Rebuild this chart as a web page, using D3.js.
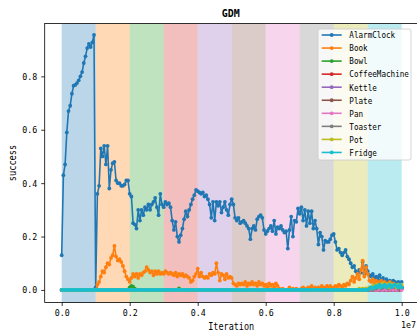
<!DOCTYPE html>
<html>
<head>
<meta charset="utf-8">
<script src="https://cdn.jsdelivr.net/npm/d3@7"></script>
<style>
  body { margin: 0; background: #fff; }
  svg text { font-family: "DejaVu Sans Mono", monospace; fill: #000; }
</style>
</head>
<body>
<figure id="gdm" style="margin:0"></figure>
<script>
// objects trained one after another, one stage of 1e6 iterations each
const objects = ['AlarmClock', 'Book', 'Bowl', 'CoffeeMachine', 'Kettle', 'Plate', 'Pan', 'Toaster', 'Pot', 'Fridge'];
const colors = ['#1f77b4', '#ff7f0e', '#2ca02c', '#d62728', '#9467bd', '#8c564b', '#e377c2', '#7f7f7f', '#bcbd22', '#17becf'];
const stageLength = 1e6;
const step = 50000;

const xTicks = [0, 2e6, 4e6, 6e6, 8e6, 1e7];
const xTickLabels = ['0.0', '0.2', '0.4', '0.6', '0.8', '1.0'];
const yTicks = [0, 0.2, 0.4, 0.6, 0.8];
const yTickLabels = ['0.0', '0.2', '0.4', '0.6', '0.8'];

const alarmClock = [
  0.13, 0.43, 0.47, 0.59, 0.67, 0.69, 0.735, 0.765, 0.768, 0.775, 0.785, 0.80, 0.816, 0.85, 0.875, 0.906, 0.922, 0.91, 0.927, 0.955,
  0.01, 0.36, 0.39, 0.53, 0.50, 0.54, 0.47, 0.54, 0.38, 0.45, 0.475, 0.48, 0.41, 0.40, 0.40, 0.39, 0.39, 0.395, 0.41, 0.41,
  0.36, 0.35, 0.25, 0.245, 0.23, 0.30, 0.26, 0.30, 0.28, 0.31, 0.30, 0.32, 0.30, 0.32, 0.33, 0.345, 0.31, 0.28, 0.36, 0.32,
  0.31, 0.33, 0.32, 0.325, 0.31, 0.26, 0.225, 0.255, 0.20, 0.18, 0.205, 0.23, 0.265, 0.295, 0.275, 0.30, 0.32, 0.34, 0.355, 0.375,
  0.37, 0.365, 0.36, 0.365, 0.35, 0.355, 0.34, 0.32, 0.27, 0.33, 0.26, 0.33, 0.315, 0.33, 0.29, 0.31, 0.33, 0.30, 0.28, 0.32,
  0.34, 0.32, 0.27, 0.26, 0.27, 0.25, 0.255, 0.26, 0.25, 0.24, 0.23, 0.19, 0.23, 0.24, 0.225, 0.265, 0.275, 0.28, 0.27, 0.225,
  0.21, 0.22, 0.23, 0.24, 0.22, 0.26, 0.21, 0.235, 0.23, 0.24, 0.225, 0.215, 0.22, 0.155, 0.225, 0.275, 0.20, 0.26, 0.255, 0.305,
  0.285, 0.31, 0.26, 0.30, 0.24, 0.295, 0.25, 0.295, 0.23, 0.26, 0.23, 0.17, 0.215, 0.20, 0.15, 0.185, 0.18, 0.18, 0.19, 0.205,
  0.21, 0.18, 0.15, 0.155, 0.14, 0.13, 0.14, 0.15, 0.125, 0.115, 0.10, 0.085, 0.09, 0.07, 0.06, 0.075, 0.065, 0.105, 0.06, 0.09,
  0.07, 0.055, 0.05, 0.06, 0.045, 0.05, 0.04, 0.055, 0.035, 0.045, 0.03, 0.04, 0.03, 0.035, 0.025, 0.035, 0.03, 0.025, 0.03, 0.02, 0.03
];
const book = [
  0, 0, 0, 0, 0, 0, 0, 0, 0, 0, 0, 0, 0, 0, 0, 0, 0, 0, 0, 0,
  0, 0.02, 0.03, 0.05, 0.07, 0.065, 0.085, 0.10, 0.095, 0.12, 0.13, 0.165, 0.125, 0.11, 0.115, 0.105, 0.09, 0.07, 0.05, 0.04,
  0.03, 0.045, 0.06, 0.05, 0.06, 0.045, 0.06, 0.055, 0.065, 0.07, 0.085, 0.075, 0.065, 0.07, 0.055, 0.07, 0.06, 0.07, 0.06, 0.065,
  0.06, 0.07, 0.065, 0.06, 0.065, 0.06, 0.055, 0.065, 0.05, 0.06, 0.055, 0.06, 0.05, 0.055, 0.05, 0.045, 0.03, 0.035, 0.05, 0.06,
  0.08, 0.05, 0.065, 0.05, 0.045, 0.05, 0.045, 0.06, 0.055, 0.065, 0.06, 0.10, 0.065, 0.035, 0.06, 0.055, 0.04, 0.06, 0.045, 0.05,
  0.045, 0.025, 0.02, 0.015, 0.025, 0.02, 0.025, 0.02, 0.03, 0.015, 0.025, 0.02, 0.03, 0.02, 0.025, 0.015, 0.03, 0.02, 0.025, 0.015,
  0.02, 0.01, 0.025, 0.015, 0.02, 0.01, 0.025, 0.015, 0.005, 0, 0.005, 0, 0, 0, 0.01, 0, 0.005, 0, 0.005, 0,
  0, 0.005, 0.01, 0.005, 0, 0.01, 0.005, 0.015, 0.005, 0.01, 0.005, 0.01, 0.005, 0.015, 0.01, 0.005, 0.015, 0.01, 0.015, 0.005,
  0.01, 0.015, 0.01, 0.02, 0.015, 0.01, 0.02, 0.015, 0.025, 0.02, 0.035, 0.05, 0.03, 0.045, 0.06, 0.04, 0.075, 0.11, 0.05, 0.085,
  0.06, 0.035, 0.03, 0.04, 0.025, 0.035, 0.03, 0.025, 0.035, 0.02, 0.03, 0.025, 0.02, 0.03, 0.015, 0.025, 0.02, 0.015, 0.02, 0.01, 0.015
];
const bowl = [
  0, 0, 0, 0, 0, 0, 0, 0, 0, 0, 0, 0, 0, 0, 0, 0, 0, 0, 0, 0,
  0, 0, 0, 0, 0, 0, 0, 0, 0, 0, 0, 0, 0, 0, 0, 0, 0, 0, 0, 0,
  0.01, 0.015, 0.012, 0.005, 0, 0, 0, 0, 0, 0, 0, 0, 0, 0, 0, 0, 0, 0, 0, 0,
  0, 0, 0, 0, 0, 0, 0, 0, 0, 0.006, 0, 0, 0, 0, 0, 0, 0, 0, 0, 0,
  0, 0, 0, 0, 0, 0, 0, 0, 0, 0, 0, 0, 0, 0, 0, 0, 0, 0, 0, 0,
  0, 0, 0, 0, 0, 0, 0, 0, 0, 0, 0, 0, 0, 0, 0, 0, 0, 0, 0, 0,
  0, 0, 0, 0, 0, 0, 0, 0, 0, 0, 0, 0, 0, 0, 0, 0, 0, 0, 0, 0,
  0, 0, 0, 0, 0, 0, 0, 0, 0, 0, 0, 0, 0, 0, 0, 0, 0, 0, 0, 0,
  0, 0, 0, 0, 0, 0, 0, 0, 0, 0, 0, 0, 0, 0, 0, 0, 0, 0, 0, 0,
  0, 0, 0, 0.005, 0, 0.01, 0, 0.005, 0.01, 0, 0.015, 0.005, 0.01, 0, 0.01, 0.005, 0.015, 0.005, 0.01, 0.005, 0.01
];
const coffeeMachine = [
  0, 0, 0, 0, 0, 0, 0, 0, 0, 0, 0, 0, 0, 0, 0, 0, 0, 0, 0, 0,
  0, 0, 0, 0, 0, 0, 0, 0, 0, 0, 0, 0, 0, 0, 0, 0, 0, 0, 0, 0,
  0, 0, 0, 0, 0, 0, 0, 0, 0, 0, 0, 0, 0, 0, 0, 0, 0, 0, 0, 0,
  0, 0, 0, 0, 0, 0, 0, 0, 0, 0, 0, 0, 0, 0, 0, 0, 0, 0, 0, 0,
  0, 0, 0, 0, 0, 0, 0, 0, 0, 0, 0, 0, 0, 0, 0, 0, 0, 0, 0, 0,
  0, 0, 0, 0, 0, 0, 0, 0, 0, 0, 0, 0, 0, 0, 0, 0, 0, 0, 0, 0,
  0, 0, 0, 0, 0, 0, 0, 0, 0, 0, 0, 0, 0, 0, 0, 0, 0, 0, 0, 0,
  0, 0, 0, 0, 0, 0, 0, 0, 0, 0, 0, 0, 0, 0, 0, 0, 0, 0, 0, 0,
  0, 0, 0, 0, 0, 0, 0, 0, 0, 0, 0, 0, 0, 0, 0, 0, 0, 0, 0, 0,
  0, 0, 0, 0, 0, 0.005, 0, 0, 0.005, 0, 0, 0.005, 0, 0.01, 0, 0.005, 0, 0.01, 0.005, 0, 0.005
];
const kettle = [
  0, 0, 0, 0, 0, 0, 0, 0, 0, 0, 0, 0, 0, 0, 0, 0, 0, 0, 0, 0,
  0, 0, 0, 0, 0, 0, 0, 0, 0, 0, 0, 0, 0, 0, 0, 0, 0, 0, 0, 0,
  0, 0, 0, 0, 0, 0, 0, 0, 0, 0, 0, 0, 0, 0, 0, 0, 0, 0, 0, 0,
  0, 0, 0, 0, 0, 0, 0, 0, 0, 0, 0, 0, 0, 0, 0, 0, 0, 0, 0, 0,
  0, 0, 0, 0, 0, 0, 0, 0, 0, 0, 0, 0, 0, 0, 0, 0, 0, 0, 0, 0,
  0, 0, 0, 0, 0, 0, 0, 0, 0, 0, 0, 0, 0, 0, 0, 0, 0, 0, 0, 0,
  0, 0, 0, 0, 0, 0, 0, 0, 0, 0, 0, 0, 0, 0, 0, 0, 0, 0, 0, 0,
  0, 0, 0, 0, 0, 0, 0, 0, 0, 0, 0, 0, 0, 0, 0, 0, 0, 0, 0, 0,
  0, 0, 0, 0, 0, 0, 0, 0, 0, 0, 0, 0, 0, 0, 0, 0, 0, 0, 0, 0,
  0, 0, 0, 0, 0.005, 0, 0, 0.005, 0, 0.005, 0, 0, 0.01, 0, 0.005, 0, 0.005, 0, 0.01, 0.005, 0.005
];
const plate = [
  0, 0, 0, 0, 0, 0, 0, 0, 0, 0, 0, 0, 0, 0, 0, 0, 0, 0, 0, 0,
  0, 0, 0, 0, 0, 0, 0, 0, 0, 0, 0, 0, 0, 0, 0, 0, 0, 0, 0, 0,
  0, 0, 0, 0, 0, 0, 0, 0, 0, 0, 0, 0, 0, 0, 0, 0, 0, 0, 0, 0,
  0, 0, 0, 0, 0, 0, 0, 0, 0, 0, 0, 0, 0, 0, 0, 0, 0, 0, 0, 0,
  0, 0, 0, 0, 0, 0, 0, 0, 0, 0, 0, 0, 0, 0, 0, 0, 0, 0, 0, 0,
  0, 0, 0, 0, 0, 0, 0, 0, 0, 0, 0, 0, 0, 0, 0, 0, 0, 0, 0, 0,
  0, 0, 0, 0, 0, 0, 0, 0, 0, 0, 0, 0, 0, 0, 0, 0, 0, 0, 0, 0,
  0, 0, 0, 0, 0, 0, 0, 0, 0, 0, 0, 0, 0, 0, 0, 0, 0, 0, 0, 0,
  0, 0, 0, 0, 0, 0, 0, 0, 0, 0, 0, 0, 0, 0, 0, 0, 0, 0, 0, 0,
  0, 0, 0, 0, 0, 0, 0.005, 0, 0, 0.005, 0, 0.005, 0, 0, 0.005, 0.01, 0, 0.005, 0, 0.005, 0.01
];
const pan = [
  0, 0, 0, 0, 0, 0, 0, 0, 0, 0, 0, 0, 0, 0, 0, 0, 0, 0, 0, 0,
  0, 0, 0, 0, 0, 0, 0, 0, 0, 0, 0, 0, 0, 0, 0, 0, 0, 0, 0, 0,
  0, 0, 0, 0, 0, 0, 0, 0, 0, 0, 0, 0, 0, 0, 0, 0, 0, 0, 0, 0,
  0, 0, 0, 0, 0, 0, 0, 0, 0, 0, 0, 0, 0, 0, 0, 0, 0, 0, 0, 0,
  0, 0, 0, 0, 0, 0, 0, 0, 0, 0, 0, 0, 0, 0, 0, 0, 0, 0, 0, 0,
  0, 0, 0, 0, 0, 0, 0, 0, 0, 0, 0, 0, 0, 0, 0, 0, 0, 0, 0, 0,
  0, 0, 0, 0, 0, 0, 0, 0, 0, 0, 0, 0, 0, 0, 0, 0, 0, 0, 0, 0,
  0, 0, 0, 0, 0, 0, 0, 0, 0, 0, 0, 0, 0, 0, 0, 0, 0, 0, 0, 0,
  0, 0, 0, 0, 0, 0, 0, 0, 0, 0, 0, 0, 0, 0, 0, 0, 0, 0, 0, 0,
  0, 0, 0, 0, 0, 0, 0, 0.005, 0, 0, 0.005, 0, 0.005, 0, 0.01, 0, 0.005, 0, 0.005, 0.01, 0
];
const toaster = [
  0, 0, 0, 0, 0, 0, 0, 0, 0, 0, 0, 0, 0, 0, 0, 0, 0, 0, 0, 0,
  0, 0, 0, 0, 0, 0, 0, 0, 0, 0, 0, 0, 0, 0, 0, 0, 0, 0, 0, 0,
  0, 0, 0, 0, 0, 0, 0, 0, 0, 0, 0, 0, 0, 0, 0, 0, 0, 0, 0, 0,
  0, 0, 0, 0, 0, 0, 0, 0, 0, 0, 0, 0, 0, 0, 0, 0, 0, 0, 0, 0,
  0, 0, 0, 0, 0, 0, 0, 0, 0, 0, 0, 0, 0, 0, 0, 0, 0, 0, 0, 0,
  0, 0, 0, 0, 0, 0, 0, 0, 0, 0, 0, 0, 0, 0, 0, 0, 0, 0, 0, 0,
  0, 0, 0, 0, 0, 0, 0, 0, 0, 0, 0, 0, 0, 0, 0, 0, 0, 0, 0, 0,
  0, 0, 0, 0, 0, 0, 0, 0, 0, 0, 0, 0, 0, 0, 0, 0, 0, 0, 0, 0,
  0, 0, 0, 0, 0, 0, 0, 0, 0, 0, 0, 0, 0, 0, 0, 0, 0, 0, 0, 0.005,
  0, 0, 0.005, 0, 0.01, 0.005, 0.01, 0.015, 0.005, 0.01, 0.015, 0.01, 0.005, 0.015, 0.01, 0.02, 0.01, 0.015, 0.005, 0.015, 0.01
];
const pot = [
  0, 0, 0, 0, 0, 0, 0, 0, 0, 0, 0, 0, 0, 0, 0, 0, 0, 0, 0, 0,
  0, 0, 0, 0, 0, 0, 0, 0, 0, 0, 0, 0, 0, 0, 0, 0, 0, 0, 0, 0,
  0, 0, 0, 0, 0, 0, 0, 0, 0, 0, 0, 0, 0, 0, 0, 0, 0, 0, 0, 0,
  0, 0, 0, 0, 0, 0, 0, 0, 0, 0, 0, 0, 0, 0, 0, 0, 0, 0, 0, 0,
  0, 0, 0, 0, 0, 0, 0, 0, 0, 0, 0, 0, 0, 0, 0, 0, 0, 0, 0, 0,
  0, 0, 0, 0, 0, 0, 0, 0, 0, 0, 0, 0, 0, 0, 0, 0, 0, 0, 0, 0,
  0, 0, 0, 0, 0, 0, 0, 0, 0, 0, 0, 0, 0, 0, 0, 0, 0, 0, 0, 0,
  0, 0, 0, 0, 0, 0, 0, 0, 0, 0, 0, 0, 0, 0, 0, 0, 0, 0, 0, 0,
  0, 0, 0, 0, 0, 0, 0, 0, 0, 0, 0, 0, 0, 0, 0, 0.005, 0, 0.005, 0, 0.005,
  0.005, 0.01, 0.005, 0.015, 0.01, 0.02, 0.015, 0.01, 0.02, 0.025, 0.015, 0.02, 0.01, 0.025, 0.02, 0.015, 0.02, 0.01, 0.02, 0.015, 0.02
];
const fridge = [
  0, 0, 0, 0, 0, 0, 0, 0, 0, 0, 0, 0, 0, 0, 0, 0, 0, 0, 0, 0,
  0, 0, 0, 0, 0, 0, 0, 0, 0, 0, 0, 0, 0, 0, 0, 0, 0, 0, 0, 0,
  0, 0, 0, 0, 0, 0, 0, 0, 0, 0, 0, 0, 0, 0, 0, 0, 0, 0, 0, 0,
  0, 0, 0, 0, 0, 0, 0, 0, 0, 0, 0, 0, 0, 0, 0, 0, 0, 0, 0, 0,
  0, 0, 0, 0, 0, 0, 0, 0, 0, 0, 0, 0, 0, 0, 0, 0, 0, 0, 0, 0,
  0, 0, 0, 0, 0, 0, 0, 0, 0, 0, 0, 0, 0, 0, 0, 0, 0, 0, 0, 0,
  0, 0, 0, 0, 0, 0, 0, 0, 0, 0, 0, 0, 0, 0, 0, 0, 0, 0, 0, 0,
  0, 0, 0, 0, 0, 0, 0, 0, 0, 0, 0, 0, 0, 0, 0, 0, 0, 0, 0, 0,
  0, 0, 0, 0, 0, 0, 0, 0, 0, 0, 0, 0, 0, 0, 0, 0, 0, 0, 0, 0,
  0, 0.005, 0.01, 0.005, 0.01, 0.015, 0.01, 0.02, 0.01, 0.015, 0.02, 0.01, 0.015, 0.02, 0.01, 0.015, 0.02, 0.015, 0.01, 0.02, 0.01
];

const series = [alarmClock, book, bowl, coffeeMachine, kettle, plate, pan, toaster, pot, fridge];

const width = 417, height = 334;
const plot = { left: 44.7, right: 418.7, top: 23.5, bottom: 302.5 };

const svg = d3.select('figure#gdm')
    .append('svg')
    .attr('width', width)
    .attr('height', height)
    .style('display', 'block');

svg.append('rect').attr('width', width).attr('height', height).attr('fill', '#fff');

const x = d3.scaleLinear()
    .domain([-0.5e6, 1.05e7])
    .range([plot.left, plot.right]);

const y = d3.scaleLinear()
    .domain([-0.047, 0.998])
    .range([plot.bottom, plot.top]);

// squeeze monospace glyphs to the narrow look of the original font
function mono(sel, size, charW) {
  sel.style('font-size', size + 'px')
     .attr('textLength', function () { return this.textContent.length * charW; })
     .attr('lengthAdjust', 'spacingAndGlyphs');
}

// one shaded band per training stage
svg.append('g')
  .selectAll('rect')
  .data(objects)
  .enter()
  .append('rect')
    .attr('x', (d, i) => x(i * stageLength))
    .attr('y', plot.top)
    .attr('width', x(stageLength) - x(0))
    .attr('height', plot.bottom - plot.top)
    .attr('fill', (d, i) => colors[i])
    .attr('fill-opacity', 0.3);

const line = d3.line()
    .x((d, i) => x(i * step))
    .y(d => y(d));

series.forEach((values, k) => {
  const g = svg.append('g');
  g.append('path')
    .datum(values)
    .attr('d', line)
    .attr('fill', 'none')
    .attr('stroke', colors[k])
    .attr('stroke-width', 1.6)
    .attr('stroke-linejoin', 'round');
  g.selectAll('circle')
    .data(values)
    .enter()
    .append('circle')
      .attr('cx', (d, i) => x(i * step))
      .attr('cy', d => y(d))
      .attr('r', 1.9)
      .attr('fill', colors[k]);
});

// frame
svg.append('rect')
    .attr('x', plot.left)
    .attr('y', plot.top)
    .attr('width', plot.right - plot.left)
    .attr('height', plot.bottom - plot.top)
    .attr('fill', 'none')
    .attr('stroke', '#000')
    .attr('stroke-width', 0.8);

// X axis
const xAxis = svg.append('g')
    .attr('transform', 'translate(0,' + plot.bottom + ')')
    .call(d3.axisBottom(x).tickValues(xTicks).tickFormat((d, i) => xTickLabels[i]).tickSize(3.5).tickPadding(3.5));
xAxis.select('.domain').remove();
xAxis.selectAll('line').attr('stroke-width', 0.8);
xAxis.selectAll('text').call(mono, 9.5, 5).attr('fill', '#000');

// Y axis
const yAxis = svg.append('g')
    .attr('transform', 'translate(' + plot.left + ',0)')
    .call(d3.axisLeft(y).tickValues(yTicks).tickFormat((d, i) => yTickLabels[i]).tickSize(3.5).tickPadding(4));
yAxis.select('.domain').remove();
yAxis.selectAll('line').attr('stroke-width', 0.8);
yAxis.selectAll('text').call(mono, 9.5, 5).attr('fill', '#000');

svg.append('text')
    .attr('x', (plot.left + plot.right) / 2 - 1)
    .attr('y', 17)
    .attr('text-anchor', 'middle')
    .style('font-weight', 'bold')
    .text('GDM')
    .call(mono, 10.5, 6);

svg.append('text')
    .attr('x', (plot.left + plot.right) / 2 - 0.5)
    .attr('y', 330)
    .attr('text-anchor', 'middle')
    .text('Iteration')
    .call(mono, 10.5, 5.1);

svg.append('text')
    .attr('x', 416)
    .attr('y', 328)
    .attr('text-anchor', 'end')
    .text('1e7')
    .call(mono, 9.5, 5);

svg.append('text')
    .attr('transform', 'translate(16,' + (plot.top + plot.bottom) / 2 + ') rotate(-90)')
    .attr('text-anchor', 'middle')
    .text('success')
    .call(mono, 10.5, 5.2);

// legend
const legend = svg.append('g').attr('transform', 'translate(318,29)');
legend.append('rect')
    .attr('width', 93)
    .attr('height', 131)
    .attr('rx', 2)
    .attr('fill', '#fff')
    .attr('fill-opacity', 0.8)
    .attr('stroke', '#ccc')
    .attr('stroke-width', 0.8);

const item = legend.selectAll('g.item')
    .data(objects)
    .enter()
    .append('g')
    .attr('class', 'item')
    .attr('transform', (d, i) => 'translate(0,' + (6 + i * 13.05) + ')');
item.append('line')
    .attr('x1', 3.7).attr('x2', 23.7)
    .attr('stroke', (d, i) => colors[i])
    .attr('stroke-width', 1.6);
item.append('circle')
    .attr('cx', 13.7)
    .attr('r', 1.9)
    .attr('fill', (d, i) => colors[i]);
// legend labels narrowed with a transform so their box stays inside the frame
item.append('text')
    .attr('transform', 'translate(31.3,0) scale(0.82,1)')
    .attr('dy', '0.36em')
    .style('font-size', '9.3px')
    .text(d => d);
</script>
</body>
</html>
